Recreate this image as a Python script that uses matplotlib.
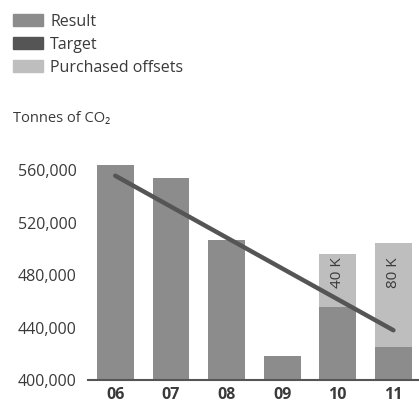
import matplotlib.pyplot as plt
from matplotlib.patches import Patch

plt.rcParams["font.family"] = ["Open Sans", "DejaVu Sans"]

years = ["06", "07", "08", "09", "10", "11"]
result = [564000, 554000, 507000, 418000, 456000, 425000]
offsets = [0, 0, 0, 0, 40000, 80000]
offset_labels = ["", "", "", "", "40 K", "80 K"]
target_years = [0, 5]
target = [556000, 438000]

c_result = "#8c8c8c"
c_target = "#555555"
c_offset = "#bebebe"
c_text = "#3a3a3a"

fig = plt.figure(figsize=(4.19, 4.03), dpi=100)
ax = fig.add_axes([0.21, 0.057, 0.79, 0.546])

x = range(len(years))
ax.bar(x, result, width=0.66, color=c_result, zorder=2)
ax.bar(x, offsets, width=0.66, bottom=result, color=c_offset, zorder=2)
ax.plot(target_years, target, color=c_target, linewidth=3.2, solid_capstyle="round", zorder=3)

for i, lab in enumerate(offset_labels):
    if lab:
        ax.text(i, 482000, lab, rotation=90, ha="center", va="center",
                fontsize=11, color=c_text, zorder=4)

ax.set_xlim(-0.49, 5.46)
ax.set_ylim(400000, 568000)
ax.set_xticks(list(x))
ax.set_xticklabels(years, fontweight="bold")
ax.set_yticks([400000, 440000, 480000, 520000, 560000])
ax.set_yticklabels(["400,000", "440,000", "480,000", "520,000", "560,000"])
ax.tick_params(length=0, labelsize=11.5, labelcolor=c_text)
ax.tick_params(axis="y", pad=8)
ax.tick_params(axis="x", pad=5)
for s in ["left", "right", "top"]:
    ax.spines[s].set_visible(False)
ax.spines["bottom"].set_color(c_target)
ax.spines["bottom"].set_linewidth(1.5)

handles = [Patch(color=c_result), Patch(color=c_target), Patch(color=c_offset)]
fig.legend(handles, ["Result", "Target", "Purchased offsets"],
           loc="upper left", bbox_to_anchor=(0.015, 0.982), frameon=False,
           fontsize=11.5, handlelength=1.9, handleheight=0.8,
           handletextpad=0.45, labelspacing=0.44, borderaxespad=0,
           labelcolor=c_text)

fig.text(0.031, 0.707, "Tonnes of CO₂", fontsize=10.5, color=c_text, va="center")

fig.savefig("out.png", dpi=100)
